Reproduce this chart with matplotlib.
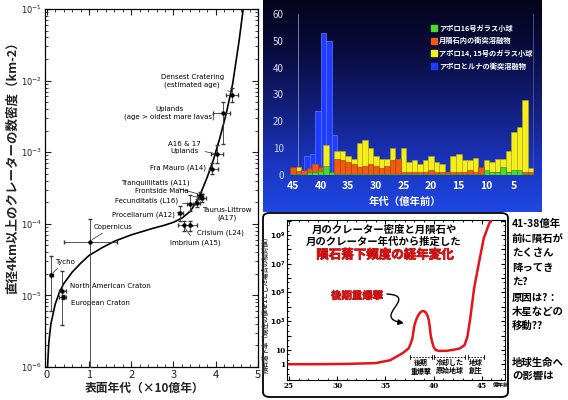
import numpy as np
import matplotlib
matplotlib.use('Agg')
import matplotlib.pyplot as plt
import matplotlib.patheffects as pe
from matplotlib.patches import FancyBboxPatch, FancyArrowPatch
from matplotlib.path import Path
from matplotlib.colors import LinearSegmentedColormap
from matplotlib.lines import Line2D
from matplotlib.ticker import FixedLocator, MultipleLocator, NullFormatter

plt.rcParams['font.family'] = ['Noto Sans CJK JP', 'DejaVu Sans']

# ---- left panel: crater density vs surface age ----
curve_age = [0.02, 0.05, 0.1, 0.2, 0.3, 0.4, 0.6, 0.8, 1.0, 1.3, 1.6, 2.0, 2.5, 2.8,
             3.0, 3.2, 3.4, 3.6, 3.8, 3.95, 4.1, 4.25, 4.4, 4.55, 4.65]
curve_density = [1e-6, 2.2e-6, 4e-6, 7.5e-6, 1.1e-5, 1.45e-5, 2.1e-5, 2.8e-5, 3.6e-5,
                 4.6e-5, 5.7e-5, 7.0e-5, 8.6e-5, 9.6e-5, 1.05e-4, 1.2e-4, 1.5e-4,
                 2.3e-4, 4.5e-4, 8e-4, 1.6e-3, 3.5e-3, 9e-3, 3.5e-2, 1e-1]

site_names = ['Densest Cratering\n(estimated age)', 'Uplands\n(age > oldest mare lavas)',
              'A16 & 17\nUplands', 'Fra Mauro (A14)', 'Tranquillitatis (A11)',
              'Frontside Maria', 'Fecunditatis (L16)', 'Taurus-Littrow\n(A17)',
              'Procellarum (A12)', 'Imbrium (A15)', 'Crisium (L24)', 'Copernicus',
              'Tycho', 'North American Craton', 'European Craton']
site_age = [4.38, 4.17, 4.03, 3.92, 3.62, 3.68, 3.40, 3.56, 3.16, 3.24, 3.38, 1.03, 0.11, 0.37, 0.38]
site_age_lo = [4.25, 3.94, 3.88, 3.83, 3.55, 3.60, 3.33, 3.50, 3.10, 3.10, 3.26, 0.41, 0.08, 0.30, 0.30]
site_age_hi = [4.52, 4.34, 4.18, 4.05, 3.70, 3.76, 3.47, 3.62, 3.22, 3.36, 3.55, 1.66, 0.14, 0.45, 0.45]
site_dens = [6.3e-3, 3.5e-3, 9.5e-4, 5.8e-4, 2.5e-4, 2.3e-4, 1.9e-4, 1.95e-4, 1.43e-4,
             9.5e-5, 9.5e-5, 5.6e-5, 1.9e-5, 1.15e-5, 9.5e-6]
site_dens_lo = [5e-3, 1.3e-3, 7e-4, 5e-4, 2.2e-4, 2.0e-4, 1.5e-4, 1.7e-4, 1.1e-4,
                8e-5, 8e-5, 1e-6, 6e-6, 3.9e-6, 9e-6]
site_dens_hi = [8e-3, 5e-3, 1.25e-3, 7e-4, 2.8e-4, 2.6e-4, 2.5e-4, 2.2e-4, 1.8e-4,
                1.1e-4, 1.1e-4, 1.15e-4, 3.6e-5, 2.2e-5, 1e-5]

# ---- top-right panel: impact ages histogram (x 100 Myr) ----
bin_age = list(range(45, 1, -1))
yellow_cnt = [0, 3, 1, 2, 4, 1, 11, 0, 9, 9, 7, 6, 12, 13, 10, 7, 6, 6, 10, 6, 10, 5,
              5.5, 4, 5.5, 7, 5, 4, 1, 7, 8, 5.5, 5.5, 6.5, 0, 5.5, 5, 6, 6, 9, 16, 18, 28, 2.5]
orange_cnt = [3, 1.5, 2, 2.5, 4, 3, 1, 1, 6, 5.5, 5, 4, 3, 3.5, 4, 3.5, 2.5, 3.5, 5.5, 6, 1, 1,
              1, 1, 1, 2, 1, 1, 1, 1, 1, 1, 2, 1, 3, 1, 1, 1, 2, 1, 1, 1, 1, 1]
green_cnt = [0.5, 0.5, 0.5, 1, 1, 1.5, 3.5, 1, 0.5, 0.5, 0.5, 0.5, 0.5, 0.5, 0.5, 0.5, 0.5,
             0.5, 0.5, 0.5, 0.5, 0.5, 0.5, 0.5, 0.5, 0.5, 0.5, 0.5, 0.5, 0.5, 0.5, 0.5, 0.5,
             0.5, 0.5, 2, 1, 1, 3, 1, 2, 2, 0.5, 0.5]
blue_age = [42.5, 41.5, 40.5, 39.5, 38.5, 37.5]
blue_cnt = [7, 8, 24, 53, 50, 15]
legend_labels = ['アポロ16号ガラス小球', '月隕石内の衝突溶融物',
                 'アポロ14, 15号のガラス小球', 'アポロとルナの衝突溶融物']

# ---- bottom panel: impact rate relative to present ----
rate_age = [25, 28, 31, 34, 35.5, 36.1, 36.8, 37.4, 37.6, 37.8, 38.0, 38.2, 38.4, 38.6,
            38.8, 39.0, 39.2, 39.35, 39.5, 39.6, 39.7, 39.85, 40.0, 40.2, 40.5, 41.3,
            42.0, 42.7, 43.2, 43.5, 43.8, 44.2, 44.7, 45.2, 45.7, 45.9]
rate = [1.0, 1.0, 1.05, 1.2, 1.9, 3.2, 6, 12.5, 25, 63, 500, 1300, 2500, 4000,
        5000, 5000, 4000, 2600, 1200, 400, 100, 35, 16, 10, 8.5, 8.5,
        10, 12.5, 21, 80, 1600, 2e5, 1.2e7, 6e8, 5e9, 1e10]
rate_ticks = [1, 10, 1e3, 1e5, 1e7, 1e9]
rate_ticklabels = ['1', '10', r'$\mathbf{10^3}$', r'$\mathbf{10^5}$', r'$\mathbf{10^7}$', r'$\mathbf{10^9}$']

W, H = 568, 400


def box(x0, y0, x1, y1):
    return [x0 / W, 1 - y1 / H, (x1 - x0) / W, (y1 - y0) / H]


def fp(x, y):
    return (x / W, 1 - y / H)


fig = plt.figure(figsize=(W / 100, H / 100), dpi=100)
fig.patch.set_facecolor('white')

# ================= left panel =================
ax1 = fig.add_axes(box(45, 9, 258, 367))
ax1.set_yscale('log')
ax1.set_xlim(-0.04, 5.0)
ax1.set_ylim(1e-6, 1e-1)
ax1.plot(curve_age, curve_density, color='black', lw=1.2, zorder=3)
for i in range(len(site_age)):
    xe = [[site_age[i] - site_age_lo[i]], [site_age_hi[i] - site_age[i]]]
    ye = [[site_dens[i] - site_dens_lo[i]], [site_dens_hi[i] - site_dens[i]]]
    ax1.errorbar(site_age[i], site_dens[i], xerr=xe, yerr=ye, fmt='o', ms=2.2,
                 color='black', ecolor='#333333', elinewidth=0.6, capsize=1.2, zorder=4)

# label positions (text xy, pointed xy)
ann = [
    ((3.44, 1.0e-2), (4.36, 7e-3), '-'),
    ((2.90, 3.5e-3), (4.10, 3.5e-3), '--'),
    ((3.26, 1.17e-3), (4.00, 9.5e-4), '-'),
    ((3.11, 6e-4), (3.90, 5.8e-4), '-'),
    ((2.57, 3.8e-4), (3.60, 2.6e-4), '-'),
    ((2.73, 2.9e-4), (3.66, 2.3e-4), '-'),
    ((2.37, 2.1e-4), (3.38, 1.9e-4), '-'),
    ((4.27, 1.35e-4), (3.57, 1.9e-4), '-'),
    ((2.28, 1.32e-4), (3.12, 1.43e-4), '-'),
    ((3.52, 5.4e-5), (3.24, 9.3e-5), '-'),
    ((4.10, 7.4e-5), (3.40, 9.3e-5), '-'),
    ((1.57, 9.1e-5), (1.05, 5.9e-5), '-'),
    ((0.43, 2.95e-5), (0.12, 2.0e-5), '-'),
    ((1.50, 1.35e-5), (0.40, 1.15e-5), '-'),
    ((1.26, 7.9e-6), (0.40, 9.3e-6), '-'),
]
for name, (txy, pxy, ls) in zip(site_names, ann):
    ax1.annotate(name, xy=pxy, xytext=txy, ha='center', va='center', fontsize=5,
                 family='DejaVu Sans', linespacing=1.3,
                 arrowprops=dict(arrowstyle='-', lw=0.5, color='#222222', linestyle=ls,
                                 shrinkA=1, shrinkB=1))

ax1.set_xticks([0, 1, 2, 3, 4, 5])
ax1.xaxis.set_minor_locator(MultipleLocator(0.2))
ax1.set_yticks([1e-6, 1e-5, 1e-4, 1e-3, 1e-2, 1e-1])
ax1.set_yticklabels([r'$10^{-6}$', r'$10^{-5}$', r'$10^{-4}$', r'$10^{-3}$', r'$10^{-2}$', r'$10^{-1}$'])
ax1.tick_params(which='both', direction='in', top=True, right=True, colors='#222222')
ax1.tick_params(axis='x', labelsize=8, length=4, pad=2)
ax1.tick_params(axis='y', labelsize=6, length=4, pad=2)
ax1.tick_params(which='minor', length=2)
for s in ax1.spines.values():
    s.set_linewidth(0.9)
fig.text(*fp(145, 388), '表面年代（×10億年）', ha='center', va='center', fontsize=8.5,
         fontweight='bold', color='#222222')
fig.text(*fp(12, 165), '直径4km以上のクレーターの数密度（km-2）', ha='center', va='center',
         rotation=90, fontsize=9, fontweight='bold', color='#222222')

# ================= top-right panel =================
bg = fig.add_axes(box(263, 0, 542, 212))
grad_cmap = LinearSegmentedColormap.from_list(
    'night', ['#04041a', '#0a0d40', '#121e7a', '#1a33bb', '#1f48e2'])
bg.imshow(np.linspace(0, 1, 256).reshape(-1, 1), cmap=grad_cmap, aspect='auto',
          extent=[0, 1, 0, 1], origin='upper')
bg.set_axis_off()

ax2 = fig.add_axes(box(288, 14, 540, 175))
ax2.patch.set_alpha(0)
ax2.set_xlim(45.9, 0.3)
ax2.set_ylim(0, 60)
ax2.axvline(44.1, color='#8a90b8', lw=0.6, zorder=0.5)
ax2.axvline(1.5, color='#4a58a0', lw=0.6, zorder=0.5)
ax2.bar(blue_age, blue_cnt, width=1.0, color='#1f3cff', edgecolor='#5c78ff', lw=0.5, zorder=1)
ax2.bar(bin_age, yellow_cnt, width=1.0, color='#f4ee1c', edgecolor='#b8a810', lw=0.4, zorder=2)
ax2.bar(bin_age, orange_cnt, width=1.0, color='#ee5a10', edgecolor='#a83808', lw=0.4, zorder=3)
ax2.bar(bin_age, green_cnt, width=1.0, color='#4cd830', edgecolor='#2a8a18', lw=0.4, zorder=4)
ax2.set_xticks([45, 40, 35, 30, 25, 20, 15, 10, 5])
ax2.set_yticks(range(0, 61, 10))
ax2.tick_params(axis='x', length=0, pad=4, labelsize=7.5, labelcolor='white')
ax2.tick_params(axis='y', length=0, pad=3, labelsize=7, labelcolor='#d4d8ec')
for lab in ax2.get_xticklabels():
    lab.set_fontweight('bold')
for s in ax2.spines.values():
    s.set_visible(False)
fig.text(*fp(405, 202), '年代（億年前）', ha='center', va='center', fontsize=7.5,
         fontweight='bold', color='white')
handles = [Line2D([], [], marker='s', ls='none', ms=4, color=c)
           for c in ['#4cd830', '#ee5a10', '#f4ee1c', '#1f3cff']]
ax2.legend(handles, legend_labels, loc='upper left', bbox_to_anchor=fp(427, 21),
           bbox_transform=fig.transFigure, frameon=False, labelcolor='white',
           prop={'size': 5.2, 'weight': 'bold'}, handlelength=0.8, handletextpad=0.4,
           labelspacing=0.7, borderpad=0)

# ================= bottom panel =================
frame = FancyBboxPatch(fp(263, 397), 245 / W, 184 / H, boxstyle='round,pad=0,rounding_size=0.012',
                       transform=fig.transFigure, facecolor='white', edgecolor='black', lw=1.3,
                       zorder=-1)
fig.add_artist(frame)

ax3 = fig.add_axes(box(287, 220, 505, 380))
ax3.set_zorder(2)
ax3.set_yscale('log')
ax3.set_xlim(24.8, 47.4)
ax3.set_ylim(10 ** -1.1, 10 ** 10.05)
ax3.plot(rate_age, rate, color='#e3141c', lw=1.8, zorder=3)
ax3.set_xticks([25, 30, 35, 40, 45])
ax3.xaxis.set_minor_locator(MultipleLocator(1))
ax3.yaxis.set_major_locator(FixedLocator([10.0 ** k for k in range(0, 11)]))
ax3.yaxis.set_minor_locator(FixedLocator([m * 10.0 ** k for k in range(-1, 10) for m in (2, 5)]))
ax3.yaxis.set_minor_formatter(NullFormatter())
ax3.set_yticklabels([rate_ticklabels[rate_ticks.index(10.0 ** k)] if 10.0 ** k in rate_ticks else ''
                     for k in range(0, 11)])
ax3.tick_params(which='both', direction='in', top=True, right=True, labelsize=5.2, pad=1.2)
ax3.tick_params(which='major', length=3)
ax3.tick_params(which='minor', length=1.5)
for lab in ax3.get_xticklabels() + ax3.get_yticklabels():
    lab.set_fontweight('bold')
    lab.set_family('DejaVu Serif')
ax3.text(47.0, -0.033, '億年前', transform=ax3.get_xaxis_transform(), ha='center', va='center',
         fontsize=4, fontweight='bold')

# era brackets
for (a0, a1), txt in zip([(37.6, 39.8), (40.0, 43.3), (43.6, 45.2)],
                         ['後期\n重爆撃', '冷却した\n原始地球', '地球\n創生']):
    ax3.plot([a0, a1], [3.2, 3.2], color='black', lw=0.6, ls=(0, (2, 1.5)))
    ax3.plot([a0, a0], [2.2, 4.6], color='black', lw=0.6)
    ax3.plot([a1, a1], [2.2, 4.6], color='black', lw=0.6)
    ax3.text((a0 + a1) / 2, 2.2, txt, ha='center', va='top', fontsize=5, fontweight='bold',
             linespacing=1.15)

fig.text(*fp(384, 230), '月のクレーター密度と月隕石や', ha='center', va='center',
         fontsize=7.5, fontweight='bold', zorder=5)
fig.text(*fp(384, 242), '月のクレーター年代から推定した', ha='center', va='center',
         fontsize=7.5, fontweight='bold', zorder=5)
fig.text(*fp(385, 255), '隕石落下頻度の経年変化', ha='center', va='center', fontsize=9,
         fontweight='bold', color='#e41212', zorder=5,
         path_effects=[pe.withStroke(linewidth=0.5, foreground='#8a0000')])
fig.text(*fp(357, 296), '後期重爆撃', ha='center', va='center', fontsize=7.5,
         fontweight='bold', color='#e41212', zorder=5,
         path_effects=[pe.withStroke(linewidth=0.4, foreground='#8a0000')])
arrow_path = Path([fp(387, 294), fp(420, 296), fp(370, 318), fp(404, 323)],
                  [Path.MOVETO, Path.CURVE4, Path.CURVE4, Path.CURVE4])
fig.add_artist(FancyArrowPatch(path=arrow_path, arrowstyle='-|>', mutation_scale=8,
                               color='black', lw=1.0, transform=fig.transFigure, zorder=5))
fig.text(*fp(265, 303), '隕石落下率（現在の値を1とした場合の相対値）', ha='center', va='center',
         rotation=90, fontsize=4.7, fontweight='bold', color='#333333')

# ================= side note =================
note_lines = ['41-38億年', '前に隕石が', 'たくさん', '降ってき', 'た?', '原因は?：',
              '木星などの', '移動??', '地球生命へ', 'の影響は']
note_y = [224, 239, 253, 268, 282, 298, 312, 326, 363, 376]
for t, y in zip(note_lines, note_y):
    fig.text(*fp(512, y), t, ha='left', va='center', fontsize=7.5, fontweight='bold')

fig.savefig('out.png', dpi=100)
